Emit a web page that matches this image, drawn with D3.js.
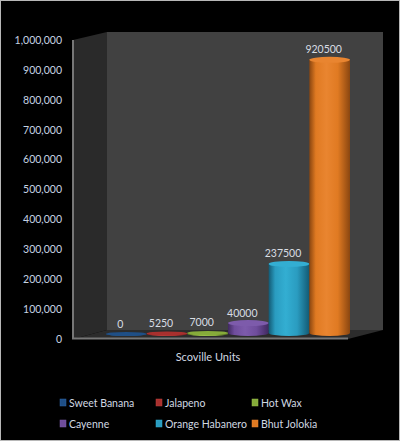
<!DOCTYPE html>
<html>
<head>
<meta charset="utf-8">
<script src="https://cdn.jsdelivr.net/npm/d3@7/dist/d3.min.js"></script>
<style>
html,body{margin:0;padding:0;background:#000;}
svg{display:block;}
text{font-family:Lato,"Open Sans",sans-serif;}
</style>
</head>
<body>
<svg id="chart" width="400" height="441"></svg>
<script>
// Scoville heat ratings for six chilli varieties
const categories = ["Sweet Banana","Jalapeno","Hot Wax","Cayenne","Orange Habanero","Bhut Jolokia"];
const values = [0,5250,7000,40000,237500,920500];
const seriesName = "Scoville Units";
const mids = ["#1f4f86","#a8302e","#86ab3a","#6f4d9c","#2a9cc0","#e07a22"];
const darks = ["#14325a","#661c1b","#4e6620","#40295f","#135a74","#8a4610"];
const lights = ["#2f66a6","#bb403d","#97bd48","#7d5bab","#33aed2","#e98530"];
const tickValues = [0,100000,200000,300000,400000,500000,600000,700000,800000,900000,1000000];

const svg = d3.select("#chart");
const defs = svg.append("defs");

// Frame of the 3D plot box: front plane and its offset back plane
const front = {l:73, r:348, b:339, t:40};
const back = {l:107, r:383, b:330, t:32};
const poly = pts => pts.map(p => p.join(",")).join(" ");

svg.append("rect").attr("x",0.5).attr("y",0.5).attr("width",399).attr("height",440)
  .attr("fill","#000").attr("stroke","#b8b8b8").attr("stroke-width",1);

svg.append("polygon").attr("points",poly([[back.l,back.t],[back.r,back.t],[back.r,back.b],[back.l,back.b]])).attr("fill","#414141");
svg.append("polygon").attr("points",poly([[front.l,front.t],[back.l,back.t],[back.l,back.b],[front.l,front.b]])).attr("fill","#2a2a2a");
svg.append("polygon").attr("points",poly([[front.l,front.b],[back.l,back.b],[back.r,back.b],[front.r,front.b]])).attr("fill","#2c2c2c");

const y = d3.scaleLinear().domain([0,1000000]).range([front.b,front.t]);
const x = d3.scaleBand().domain(categories).range([106,350]).padding(0);

// Value axis
const axis = svg.append("g").attr("transform",`translate(${front.l-1},0)`)
  .call(d3.axisLeft(y).tickValues(tickValues).tickFormat(d3.format(",")).tickSize(0).tickPadding(10));
axis.select(".domain").remove();
axis.selectAll("text").attr("fill","#c6d3e2").style("font-size","10.5px");

svg.append("line").attr("x1",front.l).attr("x2",front.l).attr("y1",front.t).attr("y2",front.b)
  .attr("stroke","#777").attr("stroke-width",2);
svg.append("line").attr("x1",front.l-1).attr("x2",front.r).attr("y1",front.b-0.5).attr("y2",front.b-0.5)
  .attr("stroke","#777").attr("stroke-width",2);

// Cylinder shading, dark at the rims with a lit band left of centre
categories.forEach((c,i) => {
  const g = defs.append("linearGradient").attr("id",`cyl${i}`).attr("x1",0).attr("x2",1).attr("y1",0).attr("y2",0);
  [[0,darks[i]],[0.16,mids[i]],[0.42,lights[i]],[0.7,mids[i]],[1,darks[i]]].forEach(s =>
    g.append("stop").attr("offset",s[0]).attr("stop-color",s[1]));
});

const bars = svg.append("g").selectAll("g").data(categories).join("g");
bars.each(function(c,i){
  const g = d3.select(this);
  const cx = x(c) + x.bandwidth()/2, rx = x.bandwidth()/2;
  const h = y(0) - y(values[i]);
  // Short cylinders sit flatter, seen almost edge-on against the floor
  const ry = h < 6 ? 2 : 3;
  const top = Math.min(334, 335 - h);
  const base = 336 - ry;
  g.append("path")
    .attr("d",`M${cx-rx},${top}L${cx-rx},${base}A${rx},${ry} 0 0 0 ${cx+rx},${base}L${cx+rx},${top}Z`)
    .attr("fill",`url(#cyl${i})`);
  g.append("ellipse").attr("cx",cx).attr("cy",top).attr("rx",rx).attr("ry",ry)
    .attr("fill",h < 6 ? mids[i] : lights[i]);
  g.append("text").attr("x",cx-6).attr("y",top-6.5).attr("text-anchor","middle")
    .attr("fill","#d8dde3").style("font-size","10.5px").text(d3.format("d")(values[i]));
});

// Category axis title
svg.append("text").attr("x",208).attr("y",361).attr("text-anchor","middle")
  .attr("fill","#d0d8e2").style("font-size","11px").text(seriesName);

// Legend: three columns over two rows
const colX = [60,156,252], rowY = [403,424];
const legend = svg.append("g").selectAll("g").data(categories).join("g")
  .attr("transform",(c,i) => `translate(${colX[i%3]},${rowY[Math.floor(i/3)]})`);
legend.append("rect").attr("x",0).attr("y",-4).attr("width",6).attr("height",7)
  .attr("fill",(c,i) => mids[i]).attr("stroke",(c,i) => lights[i]).attr("stroke-width",0.5);
legend.append("text").attr("x",9).attr("y",3.5).attr("fill","#d0d8e2").style("font-size","10.5px").text(c => c);
</script>
</body>
</html>
